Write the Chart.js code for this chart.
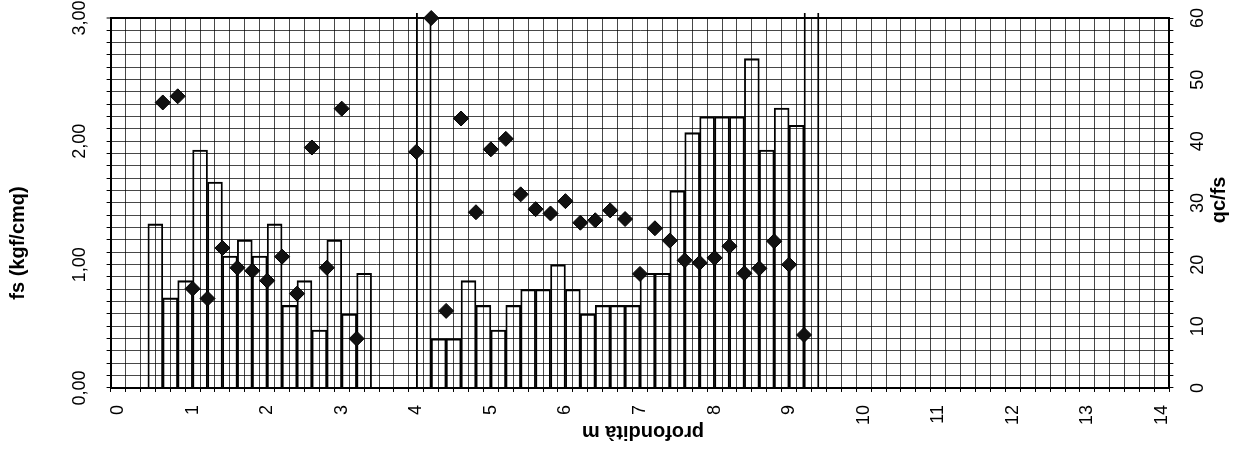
<!DOCTYPE html>
<html lang="it">
<head>
  <meta charset="UTF-8">
  <title>Prova penetrometrica - fs e qc/fs</title>
  <style>
    html, body {
      margin: 0;
      padding: 0;
      background: #fff;
    }
    .chart-box {
      position: relative;
      width: 1247px;
      height: 457px;
    }
  </style>
</head>
<body>
  <div class="chart-box">
    <canvas id="cptChart"></canvas>
  </div>

  <script src="https://cdn.jsdelivr.net/npm/chart.js"></script>
  <script>
    // attrito laterale fs (kgf/cmq): profondità di fondo di ogni intervallo da 20 cm
    const fsDepth = [0.6, 0.8, 1.0, 1.2, 1.4, 1.6, 1.8, 2.0, 2.2, 2.4, 2.6, 2.8, 3.0, 3.2, 3.4,
                     4.2, 4.4, 4.6, 4.8, 5.0, 5.2, 5.4, 5.6, 5.8, 6.0, 6.2, 6.4, 6.6, 6.8, 7.0,
                     7.2, 7.4, 7.6, 7.8, 8.0, 8.2, 8.4, 8.6, 8.8, 9.0, 9.2, 9.4];
    const fsValue = [1.33, 0.73, 0.87, 1.93, 1.67, 1.07, 1.20, 1.07, 1.33, 0.67, 0.87, 0.47, 1.20, 0.60, 0.93,
                     3.50, 0.40, 0.40, 0.87, 0.67, 0.47, 0.67, 0.80, 0.80, 1.00, 0.80, 0.60, 0.67, 0.67, 0.67,
                     0.93, 0.93, 1.60, 2.07, 2.20, 2.20, 2.20, 2.67, 1.93, 2.27, 2.13, 3.50];

    // rapporto qc/fs
    const ratioDepth = [0.6, 0.8, 1.0, 1.2, 1.4, 1.6, 1.8, 2.0, 2.2, 2.4, 2.6, 2.8, 3.0, 3.2,
                        4.0, 4.2, 4.4, 4.6, 4.8, 5.0, 5.2, 5.4, 5.6, 5.8, 6.0, 6.2, 6.4, 6.6, 6.8,
                        7.0, 7.2, 7.4, 7.6, 7.8, 8.0, 8.2, 8.4, 8.6, 8.8, 9.0, 9.2];
    const ratioValue = [46.3, 47.3, 16.1, 14.5, 22.7, 19.5, 19.0, 17.4, 21.3, 15.3, 39.0, 19.5, 45.3, 8.0,
                        38.3, 60.0, 12.5, 43.7, 28.5, 38.7, 40.4, 31.4, 29.0, 28.3, 30.3, 26.8, 27.2, 28.8, 27.4,
                        18.5, 25.9, 23.9, 20.7, 20.3, 21.1, 23.0, 18.6, 19.4, 23.8, 20.0, 8.6];

    // etichette degli assi
    const depthTicks = [0, 1, 2, 3, 4, 5, 6, 7, 8, 9, 10, 11, 12, 13, 14];
    const fsTicks = ['0,00', '1,00', '2,00', '3,00'];
    const ratioTicks = [0, 10, 20, 30, 40, 50, 60];

    const STEP = 0.2;
    const FONT = '"Liberation Sans", Arial, sans-serif';
    const gridColor = 'rgba(0, 0, 0, 0.72)';

    function near(a, b) {
      return Math.abs(a - b) < 1e-6;
    }

    // le etichette ruotate farebbero scendere il bordo superiore: lo teniamo in alto
    function keepTop(axis) {
      axis.paddingTop = 0;
    }

    // titoli degli assi disegnati a mano (ruotati come nel modulo originale)
    const axisTitles = {
      id: 'axisTitles',
      afterDraw(chart) {
        const ctx = chart.ctx;
        const a = chart.chartArea;
        ctx.save();
        ctx.fillStyle = '#000';
        ctx.font = 'bold 20px ' + FONT;
        ctx.textAlign = 'center';
        ctx.textBaseline = 'middle';

        ctx.save();
        ctx.translate(a.left - 92, (a.top + a.bottom) / 2 + 40);
        ctx.rotate(-Math.PI / 2);
        ctx.fillText('fs (kgf/cmq)', 0, 0);
        ctx.restore();

        ctx.save();
        ctx.translate(a.right + 50, (a.top + a.bottom) / 2 - 3);
        ctx.rotate(-Math.PI / 2);
        ctx.fillText('qc/fs', 0, 0);
        ctx.restore();

        ctx.save();
        ctx.translate((a.left + a.right) / 2 + 3, a.bottom + 44);
        ctx.rotate(Math.PI);
        ctx.fillText('profondità m', 0, 0);
        ctx.restore();

        ctx.restore();
      }
    };

    const ctx = document.getElementById('cptChart').getContext('2d');
    const cptChart = new Chart(ctx, {
      data: {
        datasets: [{
          type: 'scatter',
          label: 'qc/fs',
          data: ratioDepth.map((d, i) => ({ x: d, y: ratioValue[i] })),
          xAxisID: 'x',
          yAxisID: 'y2',
          pointStyle: 'rectRot',
          pointRadius: 7.5,
          pointHoverRadius: 7.5,
          backgroundColor: '#111',
          borderColor: '#000',
          borderWidth: 1,
          clip: false,
          order: 0
        }, {
          type: 'bar',
          label: 'fs',
          data: fsDepth.map((d, i) => ({ x: +(d - STEP / 2).toFixed(2), y: fsValue[i] })),
          xAxisID: 'x',
          yAxisID: 'y',
          backgroundColor: 'rgba(0, 0, 0, 0)',
          borderColor: '#000',
          borderWidth: { top: 1.5, left: 1.2, right: 1.2, bottom: 0 },
          borderSkipped: false,
          barPercentage: 1,
          categoryPercentage: 1,
          clip: { left: 0, top: 5, right: 0, bottom: 0 },
          order: 1
        }]
      },
      options: {
        responsive: true,
        maintainAspectRatio: false,
        animation: false,
        layout: {
          padding: { left: 67, right: 22, top: 18, bottom: 19 }
        },
        plugins: {
          legend: { display: false },
          tooltip: { enabled: false }
        },
        scales: {
          x: {
            type: 'linear',
            position: 'bottom',
            min: 0,
            max: 14,
            ticks: {
              stepSize: STEP,
              autoSkip: false,
              minRotation: 90,
              maxRotation: 90,
              padding: 13,
              color: '#000',
              font: { family: FONT, size: 18 },
              callback: v => {
                const t = depthTicks.find(t => near(t, v));
                return t === undefined ? '' : String(t);
              }
            },
            grid: { color: gridColor, lineWidth: 1, tickLength: 4, tickColor: '#000' },
            border: { color: '#000', width: 2 }
          },
          y: {
            type: 'linear',
            position: 'left',
            min: 0,
            max: 3,
            afterFit: keepTop,
            ticks: {
              stepSize: 0.1,
              autoSkip: false,
              minRotation: 90,
              maxRotation: 90,
              crossAlign: 'center',
              padding: 9,
              color: '#000',
              font: { family: FONT, size: 18 },
              callback: v => {
                const i = Math.round(v);
                return near(i, v) && fsTicks[i] !== undefined ? fsTicks[i] : '';
              }
            },
            grid: {
              color: c => (c.tick && near(c.tick.value, 3)) ? '#000' : gridColor,
              lineWidth: c => (c.tick && near(c.tick.value, 3)) ? 2 : 1,
              tickLength: 4,
              tickColor: '#000',
              tickWidth: 1
            },
            border: { color: '#000', width: 2 }
          },
          y2: {
            type: 'linear',
            position: 'right',
            min: 0,
            max: 60,
            afterFit: keepTop,
            ticks: {
              stepSize: 2,
              autoSkip: false,
              minRotation: 90,
              maxRotation: 90,
              crossAlign: 'center',
              padding: 15,
              color: '#000',
              font: { family: FONT, size: 18 },
              callback: v => {
                const t = ratioTicks.find(t => near(t, v));
                return t === undefined ? '' : String(t);
              }
            },
            grid: { drawOnChartArea: false, tickLength: 4, tickColor: '#000', tickWidth: 1 },
            border: { color: '#000', width: 2 }
          }
        }
      },
      plugins: [axisTitles]
    });
  </script>
</body>
</html>
